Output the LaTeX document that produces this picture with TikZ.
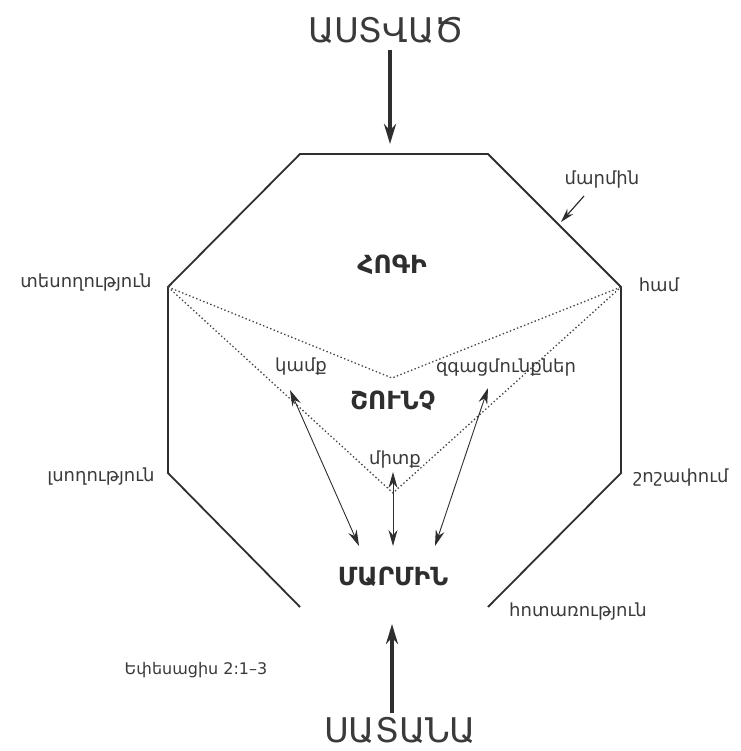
\documentclass[tikz,border=0pt]{standalone}
\usepackage{fontspec}
\setmainfont{DejaVu Sans}
\usetikzlibrary{arrows.meta}
\definecolor{ink}{HTML}{2E2E2E}
\definecolor{txt}{HTML}{3A3A3A}
\tikzset{
  bigword/.style={font=\fontsize{34}{34}\selectfont, text=txt, inner sep=0pt},
  partword/.style={font=\fontsize{25}{25}\selectfont\bfseries, text=ink, inner sep=0pt},
  lbl/.style={font=\fontsize{18}{18}\selectfont, text=txt, inner sep=0pt},
  octo/.style={draw=ink, line width=1.8pt, line join=miter},
  dots/.style={draw=ink!90, line width=1.3pt, dash pattern=on 1.4pt off 2.4pt},
  thinarr/.style={draw=ink, line width=0.9pt, {Stealth[length=16pt,width=9pt]}-{Stealth[length=16pt,width=9pt]}},
  onearr/.style={draw=ink, line width=1.2pt, -{Stealth[length=14pt,width=8pt]}},
  bigarr/.style={draw=ink, line width=3.6pt, -{Stealth[length=20pt,width=12pt]}}
}
\begin{document}
\begin{tikzpicture}[x=1pt,y=-1pt]
\useasboundingbox (0,0) rectangle (740,751);
% octagon vertices
\coordinate (A) at (300,154);
\coordinate (B) at (488,154);
\coordinate (C) at (621,287);
\coordinate (D) at (621,473);
\coordinate (E) at (488,607);
\coordinate (F) at (300,607);
\coordinate (G) at (168,473);
\coordinate (H) at (168,287);
\draw[octo] (F) -- (G) -- (H) -- (A) -- (B) -- (C) -- (D) -- (E);
% dotted soul triangle
\coordinate (V1) at (392,378);
\coordinate (V2) at (393,493);
\draw[dots] (H) -- (V1) -- (C);
\draw[dots] (H) -- (V2) -- (C);
% big words
\node[bigword] (god) at (386,30) {ԱՍՏՎԱԾ};
\node[bigword] (satan) at (400,730) {ՍԱՏԱՆԱ};
\coordinate (godtip) at (390,144);
\coordinate (satantip) at (392,624);
\draw[bigarr] (390,50) -- (godtip);
\draw[bigarr] (392,713) -- (satantip);
% parts
\node[partword] (spirit) at (392,265) {ՀՈԳԻ};
\node[partword] (soul) at (393,401) {ՇՈՒՆՉ};
\node[partword] (body) at (393,577) {ՄԱՐՄԻՆ};
% soul faculties
\node[lbl] (will) at (301,367) {կամք};
\node[lbl] (emo) at (506,368) {զգացմունքներ};
\node[lbl] (mind) at (395,460) {միտք};
% arrows body-soul
\coordinate (w1) at (290,390);
\coordinate (w2) at (359,546);
\coordinate (m1) at (393,472);
\coordinate (m2) at (393,546);
\coordinate (e1) at (488,388);
\coordinate (e2) at (435,546);
\draw[thinarr] (w1) -- (w2);
\draw[thinarr] (m1) -- (m2);
\draw[thinarr] (e1) -- (e2);
% senses
\node[lbl] (sight) at (86,283) {տեսողություն};
\node[lbl] (taste) at (659,285) {համ};
\node[lbl] (hear) at (101,477) {լսողություն};
\node[lbl] (touch) at (681,478) {շոշափում};
\node[lbl] (smell) at (578,612) {հոտառություն};
\node[lbl] (flesh) at (602,180) {մարմին};
\coordinate (fleshtip) at (561,222);
\draw[onearr] (584,196) -- (fleshtip);
\node[lbl, font=\fontsize{16}{16}\selectfont] (ref) at (196,670) {Եփեսացիս 2:1–3};
\end{tikzpicture}
\end{document}
